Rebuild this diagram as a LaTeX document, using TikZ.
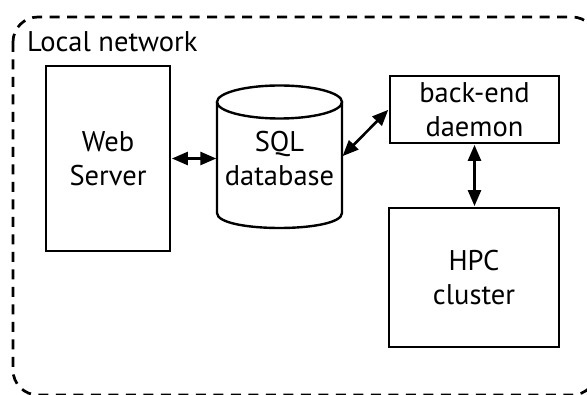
\documentclass[tikz,border=0pt]{standalone}
\usepackage{fontspec}
\setmainfont{PT Sans}
\usetikzlibrary{arrows.meta}
\tikzset{
  lbl/.style={font=\fontsize{28.5}{34}\selectfont, align=center, inner sep=0pt},
  box/.style={lbl, draw, line width=2.8pt},
  link/.style={line width=2.6pt, {Triangle[length=16pt,width=13pt]}-{Triangle[length=16pt,width=13pt]}, shorten <=0.5pt, shorten >=0.5pt},
  frame/.style={line width=2.7pt, dash pattern=on 10pt off 7.5pt, rounded corners=25pt},
  cyl/.style={line width=2.4pt}
}
\begin{document}
\begin{tikzpicture}[x=1pt,y=-1pt]
\useasboundingbox (0,0) rectangle (587,395);
\clip (0,0) rectangle (587,395);
\fill[white] (0,0) rectangle (587,395);
% outer dashed frame
\draw[frame] (13,17) rectangle (597,395);
\node[lbl, anchor=base west] (title) at (27,52) {Local network};
% web server
\node[box, minimum width=124pt, minimum height=185pt] (web) at (108,158.5) {Web\\Server};
% database cylinder
\node[minimum width=125pt, minimum height=143pt, inner sep=0pt] (db) at (279.5,156.5) {};
\draw[cyl] (217,102) -- (217,213) .. controls (217,233) and (342,233) .. (342,213) -- (342,102);
\draw[cyl] (279.5,102) ellipse [x radius=62.5, y radius=16.5];
\node[lbl] (dbtext) at (279.5,159) {SQL\\database};
% back-end daemon
\node[box, minimum width=169pt, minimum height=67pt] (daemon) at (474.5,109.5) {back-end\\daemon};
% HPC cluster
\node[box, minimum width=170pt, minimum height=139pt] (hpc) at (474,277.5) {HPC\\cluster};
% connectors
\draw[link] (web.east) -- (web.east -| db.west);
\draw[link] (db.east) -- (daemon.west);
\draw[link] (daemon.south) -- (daemon.south |- hpc.north);
\end{tikzpicture}
\end{document}
